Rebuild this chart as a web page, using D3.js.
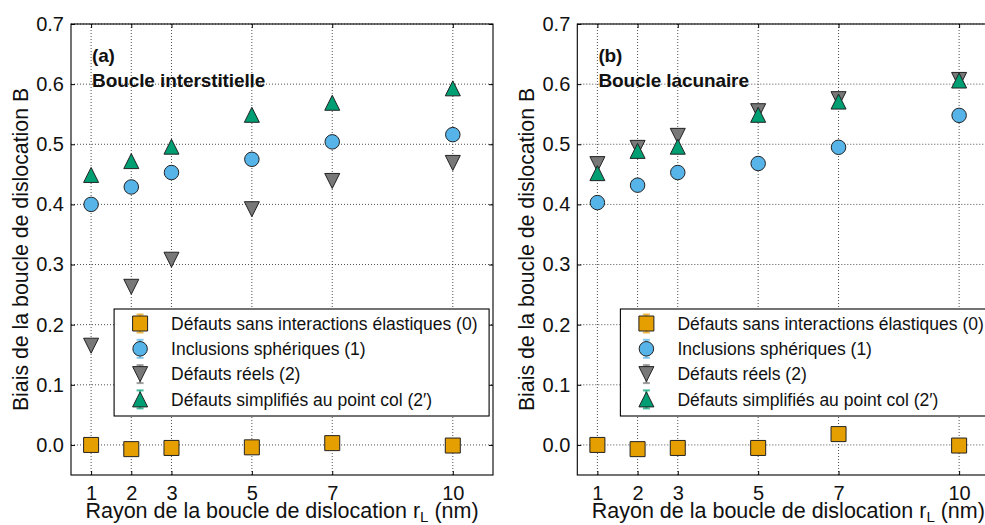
<!DOCTYPE html>
<html>
<head>
<meta charset="utf-8">
<script src="https://cdn.jsdelivr.net/npm/d3@7"></script>
<style>
  body { margin: 0; background: #fff; }
  svg text { font-family: "Liberation Sans", Arial, Helvetica, sans-serif; fill: #111; }
</style>
</head>
<body>
<svg id="chart" width="985" height="525"></svg>
<script>
(function(){
// rayons de boucle (nm)
var radii = [1, 2, 3, 5, 7, 10]
var yTicks = [0.0, 0.1, 0.2, 0.3, 0.4, 0.5, 0.6, 0.7]

var seriesNames = [
    "Défauts sans interactions élastiques (0)",
    "Inclusions sphériques (1)",
    "Défauts réels (2)",
    "Défauts simplifiés au point col (2\u2032)"
]
var seriesColors = ["#E69F00", "#56B4E9", "#787878", "#009E73"]
var seriesShapes = ["square", "circle", "down", "up"]

// (a) boucle interstitielle
var interSans   = [0.000, -0.007, -0.005, -0.004, 0.003, -0.001]
var interIncl   = [0.400, 0.429, 0.453, 0.475, 0.504, 0.516]
var interReels  = [0.165, 0.263, 0.308, 0.392, 0.439, 0.469]
var interSimpl  = [0.449, 0.472, 0.496, 0.549, 0.569, 0.593]

// (b) boucle lacunaire
var lacSans   = [0.000, -0.007, -0.005, -0.005, 0.018, -0.001]
var lacIncl   = [0.403, 0.432, 0.453, 0.468, 0.495, 0.548]
var lacReels  = [0.467, 0.494, 0.514, 0.555, 0.575, 0.607]
var lacSimpl  = [0.452, 0.489, 0.496, 0.549, 0.571, 0.606]

var svg = d3.select("#chart")

var markerPath = {
    square: s => `M${-s/2},${-s/2}h${s}v${s}h${-s}Z`,
    circle: s => { var r = s/2; return `M${r},0A${r},${r} 0 1,1 ${-r},0A${r},${r} 0 1,1 ${r},0Z` },
    up: s => `M0,${-s/2}L${s/2},${s/2}L${-s/2},${s/2}Z`,
    down: s => `M0,${s/2}L${s/2},${-s/2}L${-s/2},${-s/2}Z`
}
var markerSize = {square: 15, circle: 14.5, up: 15, down: 15}

function drawPanel(left, label, title, values) {
    var top = 24, width = 422, height = 451
    var g = svg.append("g").attr("transform", "translate(" + left + "," + top + ")")

    var x = d3.scaleLinear().domain([0.5, 11]).range([0, width])
    var y = d3.scaleLinear().domain([-0.05, 0.7]).range([height, 0])

    // grille pointillée
    g.selectAll(".vgrid").data(radii).enter().append("line")
        .attr("x1", d => x(d)).attr("x2", d => x(d))
        .attr("y1", 0).attr("y2", height)
        .attr("stroke", "#222").attr("stroke-width", 0.8)
        .attr("stroke-dasharray", "1,2")
    g.selectAll(".hgrid").data(yTicks).enter().append("line")
        .attr("x1", 0).attr("x2", width)
        .attr("y1", d => y(d)).attr("y2", d => y(d))
        .attr("stroke", "#222").attr("stroke-width", 0.8)
        .attr("stroke-dasharray", "1,2")

    // axes, ticks vers l'intérieur
    var xAxis = g.append("g").attr("transform", "translate(0," + height + ")")
        .call(d3.axisBottom(x).tickValues(radii).tickSizeInner(-4).tickSizeOuter(0).tickPadding(11))
    var yAxis = g.append("g")
        .call(d3.axisLeft(y).tickValues(yTicks).tickFormat(d3.format(".1f")).tickSizeInner(-4).tickSizeOuter(0).tickPadding(7))
    g.append("g")
        .call(d3.axisTop(x).tickValues(radii).tickSizeInner(-4).tickSizeOuter(0).tickFormat(""))
    g.append("g").attr("transform", "translate(" + width + ",0)")
        .call(d3.axisRight(y).tickValues(yTicks).tickSizeInner(-4).tickSizeOuter(0).tickFormat(""))
    g.selectAll(".domain").remove()
    g.selectAll(".tick line").attr("stroke", "#000")
    xAxis.selectAll("text").style("font-size", "20px").attr("fill", "#111")
    yAxis.selectAll("text").style("font-size", "20px").attr("fill", "#111")

    g.append("rect")
        .attr("width", width).attr("height", height)
        .attr("fill", "none").attr("stroke", "#000").attr("stroke-width", 1.1)

    // points
    values.forEach(function(vals, i) {
        var shape = seriesShapes[i]
        g.selectAll(".s" + i).data(vals).enter().append("path")
            .attr("class", "s" + i)
            .attr("transform", (d, k) => "translate(" + x(radii[k]) + "," + y(d) + ")")
            .attr("d", markerPath[shape](markerSize[shape]))
            .attr("fill", seriesColors[i])
            .attr("stroke", "#222").attr("stroke-width", 1)
    })

    // annotation
    g.append("text").attr("x", x(1) + 1).attr("y", 38)
        .style("font-size", "19px").style("font-weight", "bold").style("letter-spacing", "-0.2px")
        .text(label)
    g.append("text").attr("x", x(1) + 1).attr("y", 63)
        .style("font-size", "19px").style("font-weight", "bold").style("letter-spacing", "-0.1px")
        .text(title)

    // légende
    var lx = x(1) + 23, ly = 285
    var leg = g.append("g").attr("transform", "translate(" + lx + "," + ly + ")")
    leg.append("rect").attr("width", 375).attr("height", 107)
        .attr("fill", "#fff").attr("stroke", "#000").attr("stroke-width", 1.1)
    seriesNames.forEach(function(name, i) {
        var row = leg.append("g").attr("transform", "translate(26," + (14.5 + i * 25.3) + ")")
        var col = seriesColors[i]
        row.append("line").attr("y1", -9).attr("y2", 9)
            .attr("stroke", col).attr("stroke-width", 2).attr("opacity", 0.7)
        row.selectAll(".cap").data([-9, 9]).enter().append("line")
            .attr("x1", -3.5).attr("x2", 3.5).attr("y1", d => d).attr("y2", d => d)
            .attr("stroke", col).attr("stroke-width", 2).attr("opacity", 0.7)
        var shape = seriesShapes[i]
        row.append("path").attr("d", markerPath[shape](markerSize[shape]))
            .attr("fill", col).attr("stroke", "#222").attr("stroke-width", 1)
        row.append("text").attr("x", 31).attr("dy", "0.36em")
            .style("font-size", "17.5px").text(name)
    })

    // titres des axes
    var xl = g.append("text").attr("x", width / 2).attr("y", height + 43)
        .attr("text-anchor", "middle").style("font-size", "21.5px")
    xl.append("tspan").text("Rayon de la boucle de dislocation r")
    xl.append("tspan").attr("dy", 3.5).style("font-size", "15px").text("L")
    xl.append("tspan").attr("dy", -3.5).text(" (nm)")

    g.append("text")
        .attr("transform", "translate(-43," + (height / 2) + ") rotate(-90)")
        .attr("text-anchor", "middle").style("font-size", "21.3px")
        .text("Biais de la boucle de dislocation B")
}

drawPanel(71, "(a)", "Boucle interstitielle", [interSans, interIncl, interReels, interSimpl])
drawPanel(577.3, "(b)", "Boucle lacunaire", [lacSans, lacIncl, lacReels, lacSimpl])
})()
</script>
</body>
</html>
